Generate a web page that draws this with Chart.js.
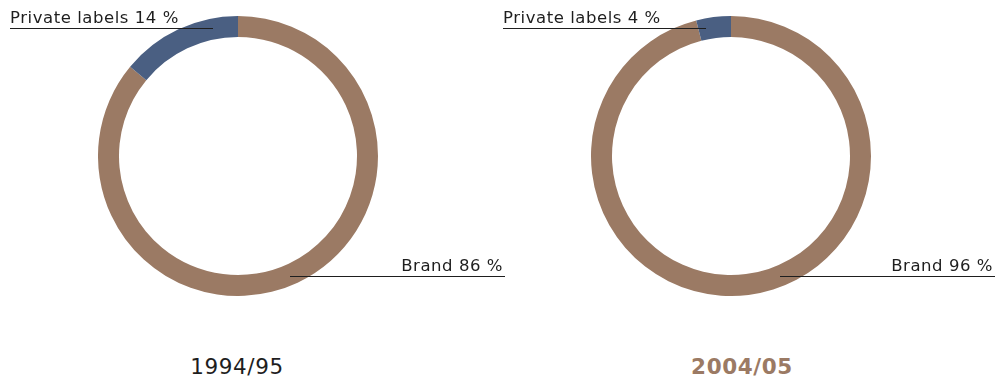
<!DOCTYPE html>
<html>
<head>
<meta charset="utf-8">
<script src="https://cdn.jsdelivr.net/npm/chart.js@4"></script>
<style>
  html, body { margin: 0; padding: 0; background: #fff; }
  body { width: 1006px; height: 381px; position: relative; overflow: hidden;
         font-family: "DejaVu Sans", sans-serif; color: #1e1e1e; }
  .ring { position: absolute; top: 16px; width: 280px; height: 280px; }
  .lbl { position: absolute; font-size: 16.5px; letter-spacing: 0.55px; line-height: 16px; height: 16px;
         padding-bottom: 2px; border-bottom: 1px solid #1e1e1e; white-space: nowrap; }
  .lbl.right { text-align: right; padding-right: 2px; box-sizing: border-box; height: 19px; }
  .year { position: absolute; top: 353px; width: 180px; text-align: center;
          font-size: 21.5px; letter-spacing: 0.6px; line-height: 28px; }
</style>
</head>
<body>
<script>
const years = ['1994/95', '2004/05'];
const categories = ['Brand', 'Private labels'];
const brandShare = [86, 96];
const privateShare = [14, 4];

const brandColor = '#9b7a64';
const privateColor = '#4a5f82';

// per panel placement: ring left edge, label boxes and year centre
const panels = [
  { ringX: 98, priv: [10, 203], brand: [290, 215], yearX: 237, yearStyle: { color: '#1e1e1e', fontWeight: 'normal' } },
  { ringX: 591, priv: [503, 203], brand: [780, 215], yearX: 742, yearStyle: { color: '#9b7a64', fontWeight: 'bold' } }
];

panels.forEach((p, i) => {
  const wrap = document.createElement('div');
  wrap.className = 'ring';
  wrap.style.left = p.ringX + 'px';
  const canvas = document.createElement('canvas');
  wrap.appendChild(canvas);
  document.body.appendChild(wrap);

  new Chart(canvas, {
    type: 'doughnut',
    data: {
      labels: categories,
      datasets: [{
        data: [brandShare[i], privateShare[i]],
        backgroundColor: [brandColor, privateColor],
        borderWidth: 0,
        hoverOffset: 0
      }]
    },
    options: {
      responsive: true,
      maintainAspectRatio: false,
      animation: false,
      cutout: '85%',
      layout: { padding: 0 },
      events: [],
      plugins: { legend: { display: false }, tooltip: { enabled: false } }
    }
  });

  const priv = document.createElement('div');
  priv.className = 'lbl';
  priv.style.left = p.priv[0] + 'px';
  priv.style.width = p.priv[1] + 'px';
  priv.style.top = '10px';
  priv.textContent = categories[1] + ' ' + privateShare[i] + ' %';
  document.body.appendChild(priv);

  const brand = document.createElement('div');
  brand.className = 'lbl right';
  brand.style.left = p.brand[0] + 'px';
  brand.style.width = p.brand[1] + 'px';
  brand.style.top = '258px';
  brand.textContent = categories[0] + ' ' + brandShare[i] + ' %';
  document.body.appendChild(brand);

  const yr = document.createElement('div');
  yr.className = 'year';
  yr.style.left = (p.yearX - 90) + 'px';
  Object.assign(yr.style, p.yearStyle);
  yr.textContent = years[i];
  document.body.appendChild(yr);
});
</script>
</body>
</html>
